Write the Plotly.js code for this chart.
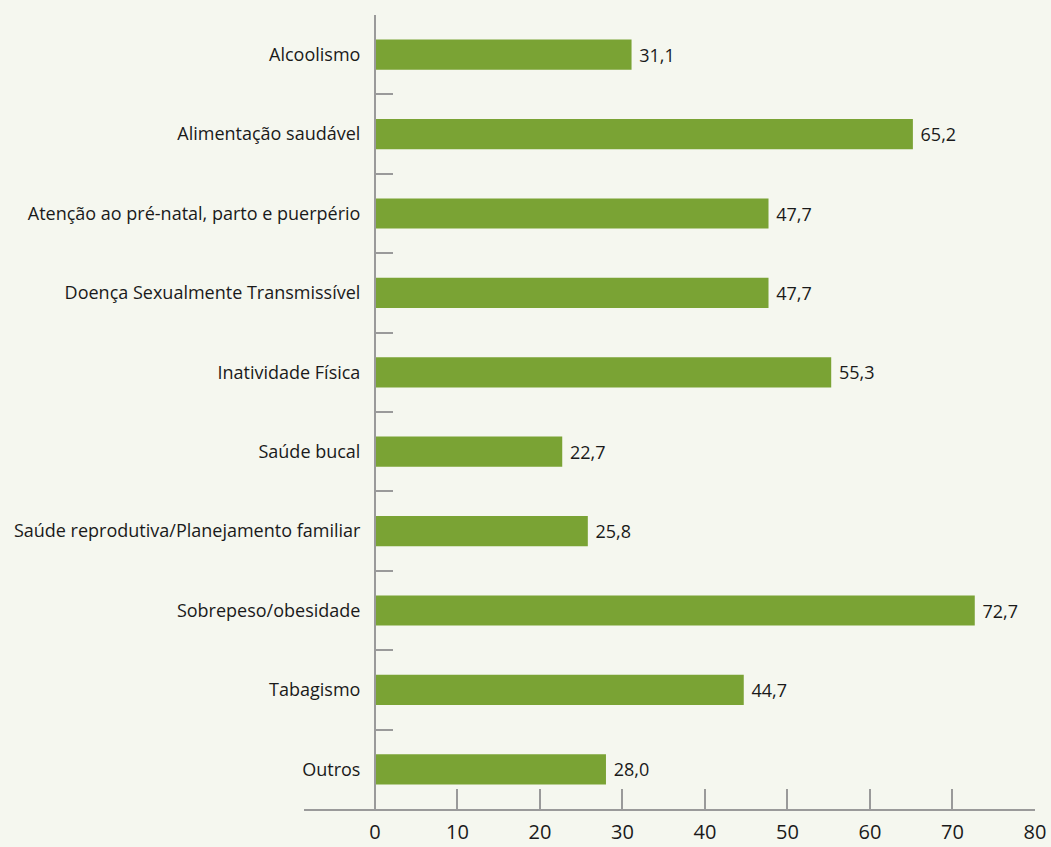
<!DOCTYPE html>
<html>
<head>
<meta charset="utf-8">
<script src="https://cdn.plot.ly/plotly-3.0.1.min.js"></script>
<style>
  html, body { margin: 0; padding: 0; background: #f5f7ef; }
  #chart { width: 1051px; height: 847px; }
</style>
</head>
<body>
<div id="chart"></div>
<script>
const categories = [
  "Alcoolismo",
  "Alimentação saudável",
  "Atenção ao pré-natal, parto e puerpério",
  "Doença Sexualmente Transmissível",
  "Inatividade Física",
  "Saúde bucal",
  "Saúde reprodutiva/Planejamento familiar",
  "Sobrepeso/obesidade",
  "Tabagismo",
  "Outros"
];
const values = [31.1, 65.2, 47.7, 47.7, 55.3, 22.7, 25.8, 72.7, 44.7, 28.0];
const xTicks = [0, 10, 20, 30, 40, 50, 60, 70, 80];

const FONT = "Open Sans, Noto Sans, sans-serif";
const axisGrey = "#9a9a9a";

const trace = {
  type: "bar",
  orientation: "h",
  x: values,
  y: categories,
  marker: { color: "#7aa334" },
  text: values.map(v => "\u00a0" + v.toFixed(1).replace(".", ",")),
  textposition: "outside",
  textfont: { family: FONT, size: 18, color: "#1a1a1a" },
  cliponaxis: false,
  hoverinfo: "none"
};

const layout = {
  width: 1051,
  height: 847,
  paper_bgcolor: "#f5f7ef",
  plot_bgcolor: "#f5f7ef",
  margin: { l: 304, r: 16, t: 15, b: 38 },
  showlegend: false,
  bargap: 0.62,
  font: { family: FONT, color: "#1a1a1a" },
  xaxis: {
    range: [-8.6, 80],
    tickvals: xTicks,
    ticktext: xTicks.map(String),
    ticks: "inside",
    ticklen: 20,
    tickwidth: 2,
    tickcolor: axisGrey,
    showline: true,
    linecolor: axisGrey,
    linewidth: 2,
    showgrid: false,
    zeroline: false,
    tickfont: { family: FONT, size: 20, color: "#1a1a1a" },
    ticklabelstandoff: 4
  },
  yaxis: {
    type: "category",
    categoryorder: "array",
    categoryarray: categories,
    range: [9.5, -0.5],
    anchor: "free",
    position: 71 / 731,
    tickson: "boundaries",
    ticks: "inside",
    ticklen: 17,
    tickwidth: 2,
    tickcolor: axisGrey,
    showline: true,
    linecolor: axisGrey,
    linewidth: 2,
    showgrid: false,
    zeroline: false,
    tickfont: { family: FONT, size: 18, color: "#1a1a1a" },
    ticklabelstandoff: 10
  }
};

Plotly.newPlot("chart", [trace], layout, { displayModeBar: false, staticPlot: true });
</script>
</body>
</html>
